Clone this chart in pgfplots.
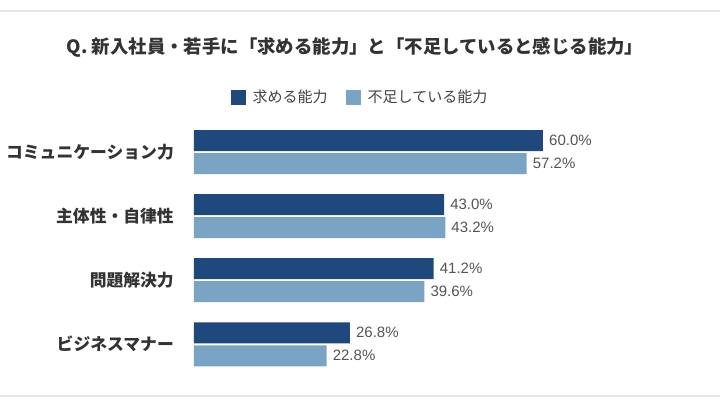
\documentclass[border=0pt]{standalone}
\usepackage{fontspec}
\setmainfont{Noto Sans CJK JP}
\newfontfamily\lat{Liberation Sans}
\usepackage{pgfplots}
\pgfplotsset{compat=1.18}
\definecolor{cdark}{HTML}{1F497D}
\definecolor{clight}{HTML}{7BA3C4}
\definecolor{ctext}{HTML}{333333}
\definecolor{cleg}{HTML}{444444}
\definecolor{cval}{HTML}{555555}
\definecolor{cline}{HTML}{E6E6E6}
\begin{document}
\begin{tikzpicture}[x=1pt,y=1pt]
\fill[white] (0,0) rectangle (720,405);
\useasboundingbox (0,0) rectangle (720,405);
\draw[cline,line width=1.5pt] (0,394) -- (720,394);
\draw[cline,line width=1.5pt] (0,9) -- (720,9);
\node[font=\bfseries\fontsize{18.4}{18.4}\selectfont, text=ctext] at (355,358) {Q. 新入社員・若手に「求める能力」と「不足していると感じる能力」};
\begin{axis}[
  at={(194pt,28.65pt)}, anchor=south west,
  scale only axis, width=465.3pt, height=256.4pt,
  xmin=0, xmax=80, ymin=-0.5, ymax=3.5,
  axis line style={draw=none},
  major tick length=0pt,
  xtick=\empty,
  ytick={0,1,2,3},
  yticklabels={ビジネスマナー,問題解決力,主体性・自律性,コミュニケーション力},
  yticklabel style={font=\bfseries\fontsize{16.8}{16.8}\selectfont, text=ctext, anchor=east, inner sep=0pt, xshift=-20pt},
  xbar=0pt, bar width=21pt,
  point meta=x,
  /pgf/number format/assume math mode=true,
  nodes near coords={\pgfmathprintnumber[fixed,fixed zerofill,precision=1]{\pgfplotspointmeta}\%},
  nodes near coords style={font=\lat\fontsize{15}{15}\selectfont, text=cval, anchor=west, inner sep=0pt, xshift=6pt},
  legend style={at={(0.3568,1.0895)}, anchor=center, draw=none, fill=none,
    font=\fontsize{15}{15}\selectfont, text=cleg,
    legend columns=2,
    /tikz/every odd column/.append style={column sep=5pt},
    /tikz/every even column/.append style={column sep=16pt}},
  legend image code/.code={\fill[#1,draw=none] (0pt,-7.5pt) rectangle (15pt,7.5pt);},
]
\addplot[fill=cdark, draw=none, bar shift=11.5pt] coordinates {(60.0,3) (43.0,2) (41.2,1) (26.8,0)};
\addplot[fill=clight, draw=none, bar shift=-11.5pt] coordinates {(57.2,3) (43.2,2) (39.6,1) (22.8,0)};
\legend{求める能力,不足している能力}
\end{axis}
\end{tikzpicture}
\end{document}
